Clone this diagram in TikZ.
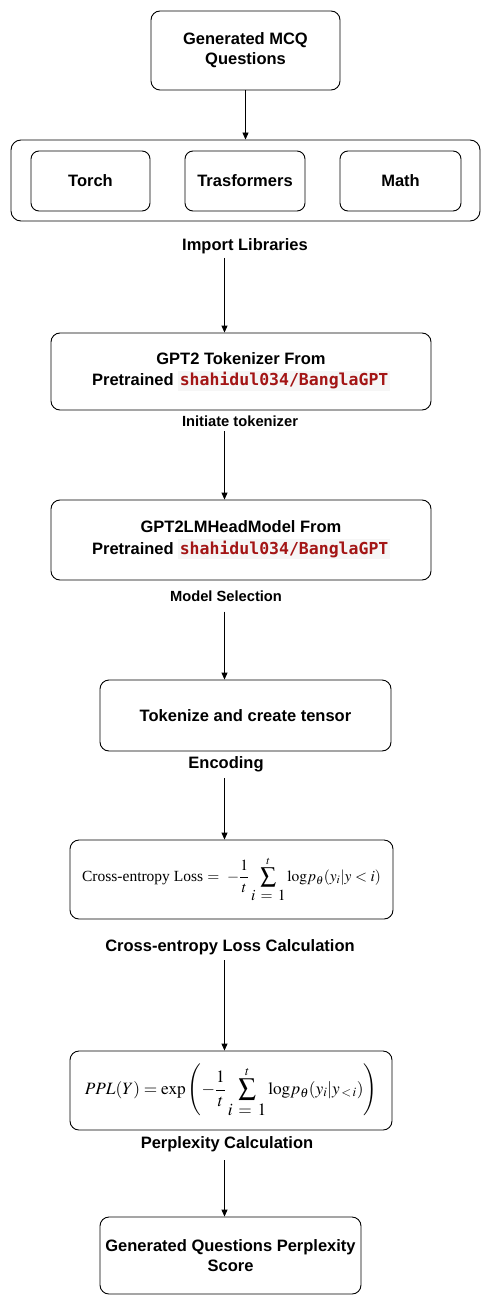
\documentclass[tikz,border=0pt]{standalone}
\usepackage{mathptmx}
\usepackage[no-math]{fontspec}
\setmainfont{Liberation Sans}
\newfontfamily\codefont{DejaVu Sans Mono}
\newfontfamily\serifrm{Liberation Serif}
\usetikzlibrary{arrows.meta}
\definecolor{codered}{RGB}{163,21,21}
\definecolor{codebg}{RGB}{246,246,246}
\newcommand{\codetxt}[1]{{\setlength{\fboxsep}{1.5pt}\colorbox{codebg}{\codefont\bfseries\color{codered}#1}}}
\begin{document}
\begin{tikzpicture}[x=1pt,y=-1pt,
  box/.style={draw, rounded corners=9pt, line width=0.9pt, align=center,
    font=\bfseries\fontsize{16.5}{20}\selectfont, inner sep=0pt},
  mbox/.style={draw, rounded corners=9pt, line width=0.9pt, align=center,
    font=\fontsize{15.5}{18}\selectfont, inner sep=0pt},
  lbl/.style={font=\bfseries\fontsize{16.5}{20}\selectfont, inner sep=0pt, anchor=base, text depth=4pt},
  slbl/.style={font=\bfseries\fontsize{14.7}{18}\selectfont, inner sep=0pt, anchor=base, text depth=4pt},
  arr/.style={-{Triangle[length=7pt,width=6pt]}, line width=0.9pt}]
\useasboundingbox (0,0) rectangle (491,1305);
\coordinate (ax) at (224.5,0);

\node[box, minimum width=189pt, minimum height=79pt] (gen) at (245.5,50.5) {Generated MCQ\\Questions};

\node[draw, rounded corners=10pt, line width=0.9pt, minimum width=469pt, minimum height=81pt, inner sep=0pt] (libs) at (245.5,180.5) {};
\node[box, rounded corners=8pt, minimum width=119pt, minimum height=60pt] (torch) at (90.5,181) {Torch};
\node[box, rounded corners=8pt, minimum width=120pt, minimum height=60pt] (trans) at (245,181) {Trasformers};
\node[box, rounded corners=8pt, minimum width=121pt, minimum height=60pt] (math) at (400.5,181) {Math};
\node[lbl] (implib) at (245,250.7) {Import Libraries};

\node[box, minimum width=380pt, minimum height=77pt, font=\bfseries\fontsize{16.5}{21.5}\selectfont] (tok) at (241,371.5) {GPT2 Tokenizer From\\Pretrained \codetxt{shahidul034/BanglaGPT}};
\node[slbl] (init) at (240,426) {Initiate tokenizer};

\node[box, minimum width=380pt, minimum height=80pt, font=\bfseries\fontsize{16.5}{21.5}\selectfont] (model) at (241,540) {GPT2LMHeadModel From\\Pretrained \codetxt{shahidul034/BanglaGPT}};
\node[slbl] (modsel) at (226,601.5) {Model Selection};

\node[box, minimum width=291pt, minimum height=71pt] (tokz) at (245.5,715.5) {Tokenize and create tensor};
\node[lbl] (enc) at (226,768) {Encoding};

\node[mbox, minimum width=323pt, minimum height=79pt] (ce) at (231.5,879.5)
  {{\serifrm Cross-entropy Loss} $\displaystyle =\ -\frac{1}{t}\sum_{\textstyle i\,=\,1}^{t}\mathrm{log}p_{\theta}(y_i|y<i)$};
\node[lbl] (cel) at (230,951) {Cross-entropy Loss Calculation};

\node[mbox, minimum width=322pt, minimum height=79pt, font=\fontsize{17.3}{20}\selectfont] (ppl) at (231,1090.5)
  {$\displaystyle PPL(Y)=\mathrm{exp}\left(-\frac{1}{t}\sum_{\textstyle i\,=\,1}^{t}\mathrm{log}p_{\theta}(y_i|y_{\,<\,i})\right)$};
\node[lbl] (pplc) at (227,1148) {Perplexity Calculation};

\node[box, minimum width=261pt, minimum height=77pt] (final) at (230.5,1255.5) {Generated Questions Perplexity\\Score};

\draw[arr] (gen) -- (libs);
\draw[arr, shorten <=3pt] (implib.south -| ax) -- (ax |- tok.north);
\draw[arr, shorten <=1pt] (init.south -| ax) -- (ax |- model.north);
\draw[arr, shorten <=6pt] (modsel.south -| ax) -- (ax |- tokz.north);
\draw[arr, shorten <=6pt] (enc.south -| ax) -- (ax |- ce.north);
\draw[arr, shorten <=5pt] (cel.south -| ax) -- (ax |- ppl.north);
\draw[arr, shorten <=8pt] (pplc.south -| ax) -- (ax |- final.north);
\end{tikzpicture}
\end{document}
